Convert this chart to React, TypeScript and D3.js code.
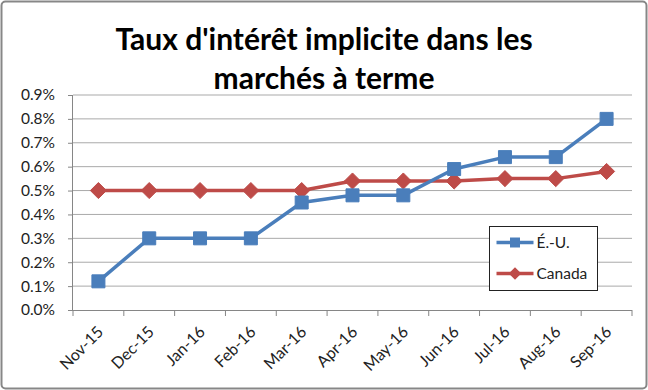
import React, { useEffect, useRef } from 'react';
import * as d3 from 'd3';

const months = ['Nov-15', 'Dec-15', 'Jan-16', 'Feb-16', 'Mar-16', 'Apr-16', 'May-16', 'Jun-16', 'Jul-16', 'Aug-16', 'Sep-16'];
const usRates = [0.12, 0.30, 0.30, 0.30, 0.45, 0.48, 0.48, 0.59, 0.64, 0.64, 0.80];
const canadaRates = [0.50, 0.50, 0.50, 0.50, 0.50, 0.54, 0.54, 0.54, 0.55, 0.55, 0.58];
const yTicks = [0, 0.1, 0.2, 0.3, 0.4, 0.5, 0.6, 0.7, 0.8, 0.9];
const titleLines = ["Taux d'intérêt implicite dans les", 'marchés à terme'];
const seriesNames = ['É.-U.', 'Canada'];

const W = 648;
const H = 390;
const FONT = 'Lato, "Open Sans", sans-serif';

export default function App() {
  const svgRef = useRef<SVGSVGElement>(null);

  useEffect(() => {
    if (!svgRef.current) return;
    const svg = d3.select(svgRef.current);
    svg.selectAll('*').remove();

    const margin = { top: 95, right: 16, bottom: 80, left: 73 };
    const plotW = W - margin.left - margin.right;
    const plotH = H - margin.top - margin.bottom;

    const x = d3.scaleBand().domain(months).range([0, plotW]);
    const y = d3.scaleLinear().domain([0, 0.9]).range([plotH, 0]);
    const cx = (m: string) => x(m)! + x.bandwidth() / 2;

    // chart frame
    svg.append('rect')
      .attr('x', 1.5).attr('y', 1.5)
      .attr('width', W - 3).attr('height', H - 3)
      .attr('rx', 4)
      .attr('fill', '#fff')
      .attr('stroke', '#878787')
      .attr('stroke-width', 2);

    // title
    const title = svg.append('text')
      .attr('text-anchor', 'middle')
      .attr('font-family', FONT)
      .attr('font-weight', 'bold')
      .attr('font-size', 30)
      .attr('fill', '#000');
    titleLines.forEach((t, i) => {
      title.append('tspan').attr('x', W / 2 + 0).attr('y', 50 + i * 39).text(t);
    });

    const g = svg.append('g').attr('transform', `translate(${margin.left},${margin.top})`);

    // grid lines
    g.append('g')
      .selectAll('line')
      .data(yTicks.slice(1))
      .enter().append('line')
      .attr('x1', 0).attr('x2', plotW)
      .attr('y1', d => y(d)).attr('y2', d => y(d))
      .attr('stroke', '#a9a9a9')
      .attr('stroke-width', 1);

    // y axis
    const yAxis = g.append('g')
      .call(d3.axisLeft(y).tickValues(yTicks).tickSize(5).tickPadding(13).tickFormat(d => `${(+d).toFixed(1)}%`));
    yAxis.select('.domain').attr('stroke', '#868686').attr('d', `M-0.5,${plotH}V0`);
    yAxis.selectAll('.tick line').attr('stroke', '#868686').attr('x1', -5).attr('x2', 0);
    yAxis.selectAll('.tick text').attr('font-family', FONT).attr('font-size', 15.5).attr('fill', '#222');

    // x axis
    const xAxis = g.append('g').attr('transform', `translate(0,${plotH})`);
    xAxis.append('line')
      .attr('x1', 0).attr('x2', plotW).attr('y1', 0.5).attr('y2', 0.5)
      .attr('stroke', '#868686');
    xAxis.selectAll('.xtick')
      .data(d3.range(months.length + 1))
      .enter().append('line')
      .attr('x1', i => i * x.bandwidth()).attr('x2', i => i * x.bandwidth())
      .attr('y1', 0).attr('y2', 6)
      .attr('stroke', '#868686');
    xAxis.selectAll('.xlabel')
      .data(months)
      .enter().append('text')
      .attr('transform', d => `translate(${cx(d) + 2},${19}) rotate(-45)`)
      .attr('text-anchor', 'end')
      .attr('dy', '0.35em')
      .attr('font-family', FONT)
      .attr('font-size', 16)
      .attr('fill', '#222')
      .text(d => d);

    const line = d3.line<number>()
      .x((_, i) => cx(months[i]))
      .y(d => y(d));

    // series
    const series = [
      { values: usRates, color: '#4A7EBB', marker: 'square' },
      { values: canadaRates, color: '#BE4B48', marker: 'diamond' },
    ];

    // Canada first, US on top
    [series[1], series[0]].forEach(s => {
      g.append('path')
        .datum(s.values)
        .attr('d', line)
        .attr('fill', 'none')
        .attr('stroke', s.color)
        .attr('stroke-width', 3.5)
        .attr('stroke-linejoin', 'round');
      const sym = s.marker === 'square'
        ? d3.symbol().type(d3.symbolSquare).size(169)
        : d3.symbol().type(d3.symbolDiamond2).size(165);
      g.selectAll(null)
        .data(s.values)
        .enter().append('path')
        .attr('d', sym())
        .attr('transform', (d, i) => `translate(${cx(months[i])},${y(d)})`)
        .attr('fill', s.color)
        .attr('stroke', s.color)
        .attr('stroke-width', 1);
    });

    // legend
    const lg = svg.append('g').attr('transform', 'translate(489.5,226.5)');
    lg.append('rect')
      .attr('width', 108).attr('height', 64)
      .attr('fill', '#fff')
      .attr('stroke', '#222')
      .attr('stroke-width', 1);
    series.forEach((s, i) => {
      const yy = 16 + i * 31;
      lg.append('line')
        .attr('x1', 7).attr('x2', 44).attr('y1', yy).attr('y2', yy)
        .attr('stroke', s.color).attr('stroke-width', 3.5);
      const sym = s.marker === 'square'
        ? d3.symbol().type(d3.symbolSquare).size(100)
        : d3.symbol().type(d3.symbolDiamond2).size(100);
      lg.append('path')
        .attr('d', sym())
        .attr('transform', `translate(25.5,${yy})`)
        .attr('fill', s.color);
      lg.append('text')
        .attr('x', 47).attr('y', yy)
        .attr('dy', '0.35em')
        .attr('font-family', FONT)
        .attr('font-size', 15.5)
        .attr('fill', '#222')
        .text(seriesNames[i]);
    });
  }, []);

  return (
    <div style={{ position: 'absolute', left: 0, top: 0 }}>
      <svg ref={svgRef} width={W} height={H} style={{ display: 'block' }} />
    </div>
  );
}
